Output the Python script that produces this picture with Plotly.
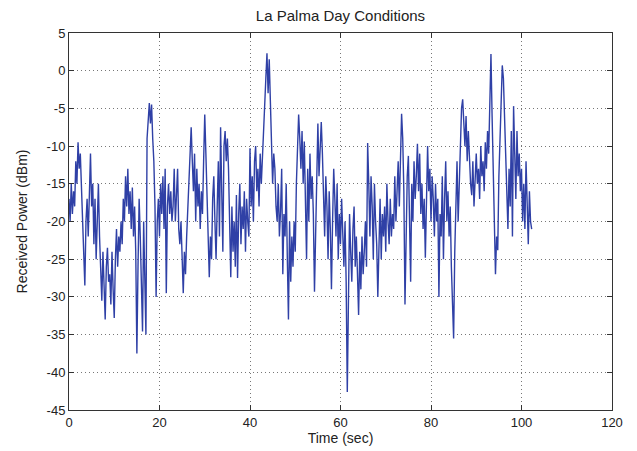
import plotly.graph_objects as go

# Received power samples (dBm), 4 samples per second starting at t = 0
power_dbm = [
    -17, -20, -15, -19,   -16, -18, -12, -15,   -9.5, -13, -11, -16,   -21, -25, -28.5, -20,
    -17, -22, -14, -11,   -18, -15, -23, -17,   -25, -19, -15, -22,   -28, -30.5, -24, -29,
    -33, -26, -23.5, -28, -27, -31, -24, -29,   -32.8, -25, -21, -26,  -22, -24, -20, -23,
    -17, -20, -14, -18,   -13, -19, -16, -21,   -15.5, -22, -18, -24,  -37.5, -26, -17, -22,
    -28, -34.6, -20, -30, -35, -9, -6, -4.3,    -7, -4.5, -9, -12,     -18, -30, -20, -17,
    -22, -15, -19, -14,   -21, -13, -29.5, -18, -15, -19, -16, -20,   -18, -13, -20, -17,
    -13, -21, -23, -20,   -26, -29.5, -24, -27, -22, -18, -14, -10,   -7.5, -12, -16, -11,
    -20, -13, -18, -15,   -21, -16, -19, -12,   -5.8, -11, -16, -20,  -27.4, -22, -25, -17,
    -14, -20, -25, -18,   -12, -22, -7.5, -16,  -24, -10, -8, -12,    -9, -13, -22, -27.4,
    -18, -24, -20, -26,   -16.5, -27.5, -19, -15, -23, -18, -21, -16, -24, -17, -20, -22,
    -10.3, -18, -14, -20, -12, -10, -16, -13,   -18, -11, -15, -12,   -8, -4, -1, 2.3,
    -3, 1.5, -5, -9,      -15, -11, -13, -18,   -20, -15, -22, -18.6, -13, -27, -19, -22,
    -15, -25, -33, -20,   -28, -22, -26, -20,   -24, -15, -10, -5.8,   -9, -13, -8, -15,
    -9.4, -18, -25, -13,  -20, -11, -17, -14,   -19, -29.3, -23, -17,  -7, -14, -10, -6.8,
    -11, -17, -22, -14,   -18, -25, -16, -21,   -29, -20, -13, -17,   -22, -15, -25, -19,
    -23, -17, -21, -26,   -20, -28, -42.6, -25, -19, -24, -28, -21,   -18, -26, -22, -27,
    -32.4, -24, -29, -22, -27, -24, -20, -26,   -9.6, -15, -22, -14,   -18, -25, -15, -20,
    -23, -30, -21, -17,   -25, -19, -22, -18,   -24, -15, -20, -23,   -17, -22, -19, -21,
    -14, -20, -16, -12,   -18, -10, -5.7, -9,   -16, -31, -20, -14,   -11.3, -18, -28, -15,
    -20, -12, -17, -14,   -9.7, -16, -11, -19,  -15, -21, -17, -24.8, -18, -10, -16, -13,
    -20, -14, -17, -22,   -15, -20, -17, -30,   -19, -22, -14, -25,   -17, -12, -20, -16,
    -22, -18, -26, -30,   -35.5, -24, -17, -12, -20, -14, -9, -5,     -3.8, -7, -10, -6,
    -12, -8, -13, -15,    -16.5, -12, -18, -14, -11, -15, -13, -17,   -10, -14, -12, -16,
    -9.5, -13, -8, -11,   -4, 2.2, -6, -12,     -20, -27, -22, -23.8,  -14, -8, -3, 0.7,
    -1, -5, -11, -16,     -21, -13, -18, -8,    -22, -4.7, -12, -17,   -8, -14, -11, -16,
    -13, -20, -15, -21,   -12, -18, -23, -16,   -20, -21,
]
samples_per_sec = 4
time_sec = [i / samples_per_sec for i in range(len(power_dbm))]

x_ticks = [0, 20, 40, 60, 80, 100, 120]
y_ticks = [5, 0, -5, -10, -15, -20, -25, -30, -35, -40, -45]

fig = go.Figure()
fig.add_trace(go.Scatter(
    x=time_sec, y=power_dbm, mode="lines",
    line=dict(color="#2f40a6", width=1.4),
    showlegend=False,
))

tick_font = dict(family="Liberation Sans, Arial, sans-serif", size=13, color="#222222")
label_font = dict(family="Liberation Sans, Arial, sans-serif", size=14, color="#222222")
axis_common = dict(
    showline=True, linecolor="#333333", linewidth=1, mirror="ticks",
    ticks="inside", ticklen=5, tickcolor="#333333",
    showgrid=True, gridcolor="#777777", griddash="1px,3px", gridwidth=1,
    zeroline=False, tickfont=tick_font, automargin=False,
)
fig.update_xaxes(range=[0, 120], tickvals=x_ticks, ticktext=[str(v) for v in x_ticks],
                 title=dict(text="Time (sec)", font=label_font, standoff=2), **axis_common)
fig.update_yaxes(range=[-45, 5], tickvals=y_ticks, ticktext=[str(v) for v in y_ticks],
                 title=dict(text="Received Power (dBm)", font=label_font, standoff=15), **axis_common)
fig.update_layout(
    width=637, height=451,
    margin=dict(l=69, r=25, t=33, b=41),
    paper_bgcolor="white", plot_bgcolor="white",
    font=label_font,
    title=dict(text="La Palma Day Conditions", font=dict(label_font, size=15), x=0.5, xref="paper",
               y=1 - 16 / 451, yref="container", yanchor="middle"),
)
fig.write_html("out.html", config={"displayModeBar": False},
               post_script="document.body.style.margin='0px';")
